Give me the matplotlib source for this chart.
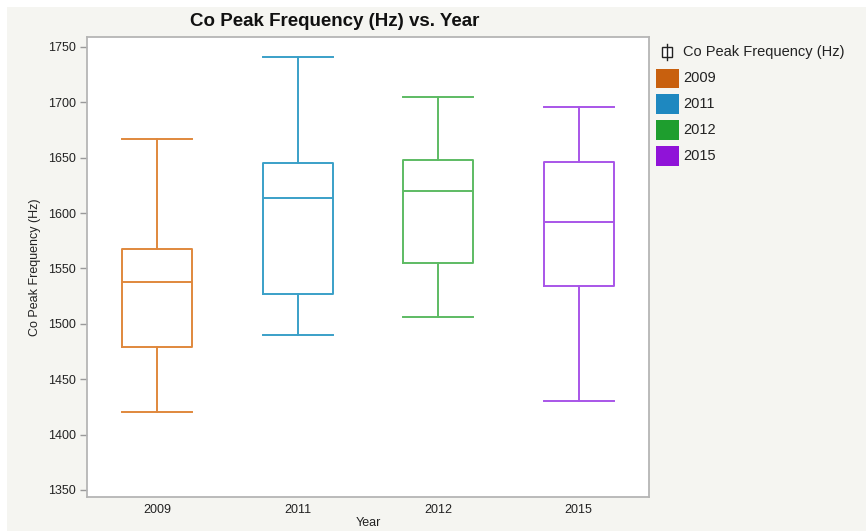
import matplotlib
matplotlib.use("Agg")
import matplotlib.pyplot as plt
from matplotlib.patches import Rectangle
from matplotlib.lines import Line2D

plt.rcParams['font.family'] = ['Liberation Sans', 'DejaVu Sans']

# Five-number summaries of Co peak frequency (Hz) per year
years = ["2009", "2011", "2012", "2015"]
whisker_low = [1420, 1490, 1506, 1430]
q1 = [1479, 1527, 1555, 1534]
median = [1538, 1614, 1620, 1592]
q3 = [1568, 1645, 1648, 1646]
whisker_high = [1667, 1741, 1705, 1696]

line_colors = ["#e0883c", "#3aa0c8", "#5dbb63", "#a855e8"]
swatch_colors = ["#c8600e", "#1e88c0", "#1e9e2e", "#9013d8"]
yticks = [1350, 1400, 1450, 1500, 1550, 1600, 1650, 1700, 1750]

W, H = 866, 531
fig = plt.figure(figsize=(W / 100, H / 100), dpi=100, facecolor="white")
bg = "#f5f5f1"
fig.patches.append(Rectangle((7 / W, 0), 1 - 7 / W, 1 - 7 / H, transform=fig.transFigure,
                             facecolor=bg, edgecolor="none", zorder=-10))

# axes box in pixels: left 87, right 649, top 37, bottom 497
ax = fig.add_axes([87 / W, 1 - 497 / H, (649 - 87) / W, (497 - 37) / H])
ax.set_facecolor("white")

stats = []
for i, y in enumerate(years):
    stats.append(dict(label=y, whislo=whisker_low[i], q1=q1[i], med=median[i],
                      q3=q3[i], whishi=whisker_high[i], fliers=[]))

for i, s in enumerate(stats):
    c = line_colors[i]
    ax.bxp([s], positions=[i], widths=0.5, showfliers=False, capwidths=0.5,
           boxprops=dict(color=c, linewidth=1.4),
           medianprops=dict(color=c, linewidth=1.4),
           whiskerprops=dict(color=c, linewidth=1.4),
           capprops=dict(color=c, linewidth=1.4))

ax.set_xlim(-0.5, 3.5)
ax.set_ylim(1343.6, 1759)
ax.set_xticks(range(len(years)))
ax.set_xticklabels(years)
ax.set_yticks(yticks)
ax.set_yticklabels([str(t) for t in yticks])
ax.tick_params(axis="x", length=0, labelsize=9, pad=5, colors="#222222")
ax.tick_params(axis="y", length=5, width=1, color="#999999", labelsize=9,
               labelcolor="#222222", pad=3)
for sp in ax.spines.values():
    sp.set_color("#b5b5b5")
    sp.set_linewidth(1.3)

ax.set_xlabel("Year", fontsize=9, color="#222222", labelpad=1)
ax.set_ylabel("Co Peak Frequency (Hz)", fontsize=9, color="#222222", labelpad=5)

fig.text(335 / W, 1 - 21 / H, "Co Peak Frequency (Hz) vs. Year", ha="center", va="center",
         fontsize=13.5, fontweight="bold", color="#111111")

# legend: box-plot glyph with title, then one swatch per year
gx, gy = 667, 52
def fx(px):
    return px / W
def fy(py):
    return 1 - py / H
fig.add_artist(Line2D([fx(gx), fx(gx)], [fy(gy - 8), fy(gy + 8)], color="#222222", lw=1,
                      transform=fig.transFigure))
fig.add_artist(Rectangle((fx(gx - 5), fy(gy + 5)), 10 / W, 10 / H, transform=fig.transFigure,
                         facecolor="white", edgecolor="#222222", lw=1))
fig.text(fx(683), fy(gy), "Co Peak Frequency (Hz)", ha="left", va="center",
         fontsize=10.5, color="#222222")
for i, y in enumerate(years):
    cy = 78 + i * 26
    fig.add_artist(Rectangle((fx(656), fy(cy + 9.5)), 23 / W, 19 / H, transform=fig.transFigure,
                             facecolor=swatch_colors[i], edgecolor="none"))
    fig.text(fx(683), fy(cy), y, ha="left", va="center", fontsize=10.5, color="#222222")

fig.savefig("out.png", dpi=100, facecolor=fig.get_facecolor())
